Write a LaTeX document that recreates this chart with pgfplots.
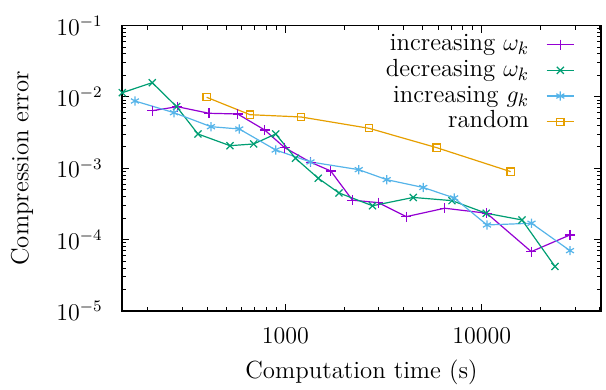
\documentclass[12pt,border=0pt]{standalone}
\usepackage{pgfplots}
\pgfplotsset{compat=1.18}
\definecolor{cpurple}{HTML}{9400D3}
\definecolor{cgreen}{HTML}{009E73}
\definecolor{cblue}{HTML}{56B4E9}
\definecolor{corange}{HTML}{E69F00}
\begin{document}
\begin{tikzpicture}
\begin{axis}[
  xmode=log, ymode=log,
  scale only axis, width=239.5pt, height=142.75pt,
  xmin=147.5, xmax=40500, ymin=1e-5, ymax=1e-1,
  xtick={1000,10000}, xticklabels={1000,10000},
  minor xtick={200,300,400,500,600,700,800,900,2000,3000,4000,5000,6000,7000,8000,9000,20000,30000,40000},
  ytick={1e-5,1e-4,1e-3,1e-2,1e-1},
  minor ytick={2e-5,3e-5,4e-5,5e-5,6e-5,7e-5,8e-5,9e-5,2e-4,3e-4,4e-4,5e-4,6e-4,7e-4,8e-4,9e-4,2e-3,3e-3,4e-3,5e-3,6e-3,7e-3,8e-3,9e-3,2e-2,3e-2,4e-2,5e-2,6e-2,7e-2,8e-2,9e-2},
  tick align=inside,
  major tick length=3.5pt, minor tick length=2pt,
  every tick/.style={black, line width=0.5pt},
  axis line style={line width=0.7pt},
  xticklabel style={yshift=-4pt},
  yticklabel style={xshift=-5.5pt},
  xlabel={Computation time (s)}, ylabel={Compression error},
  label style={font=\fontsize{12.4pt}{15pt}\selectfont},
  xlabel style={at={(axis description cs:0.5,-0.2137)}, anchor=center},
  ylabel style={at={(axis description cs:-0.2088,0.5)}, anchor=center},
  clip=false,
  legend cell align=right, legend plot pos=right,
  legend style={draw=none, fill=none, inner sep=0pt, at={(axis description cs:0.9457,0.975)}, anchor=north east,
    row sep=1.25pt, column sep=8pt, font=\fontsize{12.4pt}{15pt}\selectfont,
    nodes={inner sep=0.5pt, text height=8.3pt, text depth=2.3pt}},
  legend image code/.code={\draw[mark repeat=2,mark phase=2] plot coordinates {(0cm,0cm) (0.24cm,0cm) (0.48cm,0cm)};},
  every axis plot/.append style={line width=0.6pt},
]
\addplot[cpurple, mark=+, mark size=2.5pt, mark options={solid}] coordinates {
(210.3,0.006405) (281.9,0.007292) (408.8,0.005893) (572.2,0.005761) (785.6,0.003439) (993,0.001943) (1347,0.001213) (1703,0.000917) (2198,0.0003573) (2975,0.0003297) (4131,0.0002099) (6480,0.0002754) (10605,0.0002343) (17890,0.0000679) (28160,0.0001163)};
\addlegendentry{increasing $\omega_k$}
\addplot[cgreen, mark=x, mark size=2.5pt, mark options={solid}] coordinates {
(148,0.01145) (210.3,0.01581) (279.9,0.007292) (359.3,0.003022) (523,0.002072) (690.4,0.002189) (893.9,0.003022) (1127,0.00138) (1472,0.0007244) (1877,0.0004509) (2780,0.0002984) (4484,0.00039) (7060,0.0003517) (10542,0.0002343) (16040,0.0001887) (23610,0.0000421)};
\addlegendentry{decreasing $\omega_k$}
\addplot[cblue, mark=asterisk, mark size=2.3pt, mark options={solid}] coordinates {
(171.7,0.00876) (271.2,0.006008) (418.5,0.003824) (583.1,0.003551) (893.9,0.001804) (1344,0.001225) (2367,0.000956) (3284,0.000692) (5041,0.000538) (7244,0.0003837) (10640,0.0001606) (17930,0.0001697) (28160,0.0000701)};
\addlegendentry{increasing $g_k$}
\addplot[corange, mark=square, mark size=1.8pt, mark options={solid}] coordinates {
(397.9,0.009872) (661.1,0.005631) (1202,0.005231) (2668,0.003632) (5901,0.001943) (14050,0.0008965)};
\addlegendentry{random}
\end{axis}
\pgfresetboundingbox
\path (-61pt,-39.5pt) rectangle (242pt,155.5pt);
\end{tikzpicture}
\end{document}
